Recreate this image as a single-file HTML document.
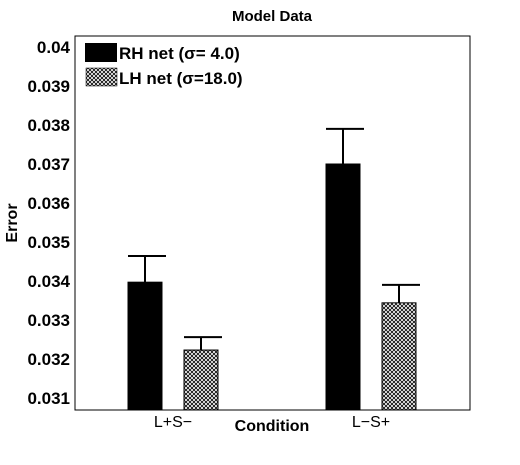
<!DOCTYPE html>
<html><head><meta charset="utf-8"><style>
body{margin:0;background:#fff;}
svg text{font-family:"Liberation Sans",sans-serif;}
</style></head><body>
<svg width="520" height="460" viewBox="0 0 520 460">
<defs>
<pattern id="hatch" width="4" height="4" patternUnits="userSpaceOnUse">
<rect width="4" height="4" fill="#fff"/>
<path d="M0,0L4,4M4,0L0,4" stroke="#000" stroke-width="0.8"/>
</pattern>
</defs>
<text x="272" y="21" font-size="15" font-weight="bold" text-anchor="middle">Model Data</text>
<rect x="75" y="36" width="395" height="374" fill="none" stroke="#000" stroke-width="1"/>
<g id="yticks"></g>
<g id="bars"></g>
<text transform="translate(17,223) rotate(-90)" font-size="16" font-weight="bold" text-anchor="middle">Error</text>
<text x="272" y="431" font-size="16" font-weight="bold" text-anchor="middle">Condition</text>
<g>
<rect x="85" y="43" width="32" height="19" fill="#000"/>
<text x="119" y="59" font-size="17" font-weight="bold">RH net (σ= 4.0)</text>
<rect x="86" y="68" width="31" height="18" fill="url(#hatch)" stroke="#000" stroke-width="0.5"/>
<text x="119" y="84" font-size="17" font-weight="bold">LH net (σ=18.0)</text>
</g>
</svg>
<script>
const categories=["L+S\u2212","L\u2212S+"];
const rhValues=[0.03397,0.0370];
const rhErrors=[0.00067,0.0009];
const lhValues=[0.03223,0.03344];
const lhErrors=[0.00033,0.00046];
const yTicks=[0.031,0.032,0.033,0.034,0.035,0.036,0.037,0.038,0.039,0.04];
const yTickLabels=["0.031","0.032","0.033","0.034","0.035","0.036","0.037","0.038","0.039","0.04"];
const NS="http://www.w3.org/2000/svg";
function y(v){return 398-(v-0.031)*39000;}
function xc(i){return 173+i*198;}
const yt=document.getElementById('yticks');
yTicks.forEach((t,i)=>{
 const e=document.createElementNS(NS,'text');
 e.setAttribute('x',70);e.setAttribute('y',y(t)+6);
 e.setAttribute('text-anchor','end');e.setAttribute('font-size','17');e.setAttribute('font-weight','bold');
 e.textContent=yTickLabels[i];
 
 
 yt.appendChild(e);
});
const g=document.getElementById('bars');
const bottom=410;
function bar(x,v,err,fill,name){
 const r=document.createElementNS(NS,'rect');
 r.setAttribute('x',x);r.setAttribute('y',y(v));r.setAttribute('width',34);r.setAttribute('height',bottom-y(v));
 r.setAttribute('fill',fill);r.setAttribute('stroke','#000');r.setAttribute('stroke-width','1');
 
 
 g.appendChild(r);
 const p=document.createElementNS(NS,'path');
 const cx=x+17,ty=y(v+err);
 p.setAttribute('d',`M${cx},${y(v)}V${ty}M${cx-17},${ty}H${cx+21}`);
 p.setAttribute('stroke','#000');p.setAttribute('stroke-width','2');p.setAttribute('fill','none');
 
 
 g.appendChild(p);
}
categories.forEach((c,i)=>{
 bar(xc(i)-45,rhValues[i],rhErrors[i],'#000','bar-rh-'+i);
 bar(xc(i)+11,lhValues[i],lhErrors[i],'url(#hatch)','bar-lh-'+i);
 const t=document.createElementNS(NS,'text');
 t.setAttribute('x',xc(i));t.setAttribute('y',427);t.setAttribute('text-anchor','middle');t.setAttribute('font-size','16');
 t.textContent=c;
 
 
 g.appendChild(t);
});
</script>
</body></html>
